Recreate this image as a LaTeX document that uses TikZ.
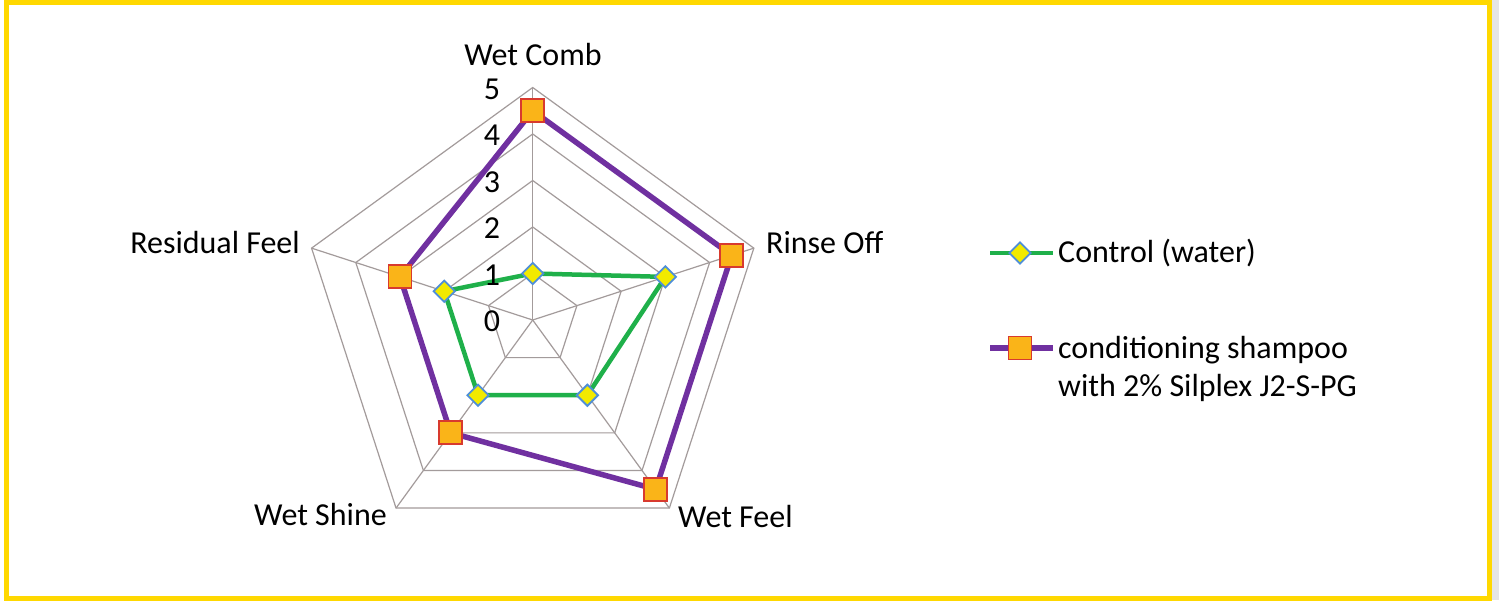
\documentclass[tikz,border=0pt]{standalone}
\usepackage{fontspec}
\setmainfont{Carlito}
\usepackage{tikz}
\usetikzlibrary{shapes.geometric}

\definecolor{marco}{HTML}{FFD800}
\definecolor{gris}{HTML}{A39B9B}
\definecolor{verde}{HTML}{1FB04A}
\definecolor{morado}{HTML}{7030A0}
\definecolor{naranja}{HTML}{FAB418}
\definecolor{rojo}{HTML}{D83A2E}
\definecolor{amarillo}{HTML}{F2EA00}
\definecolor{azul}{HTML}{4F8FD8}

\tikzset{
  rejilla/.style={draw=gris, line width=1.2pt},
  etiqueta/.style={inner sep=0pt, font=\fontsize{32}{38}\selectfont},
  control/.style={diamond, draw=azul, fill=amarillo, line width=1.8pt, minimum size=22pt, inner sep=0pt},
  champu/.style={rectangle, draw=rojo, fill=naranja, line width=1.8pt, minimum size=23pt, inner sep=0pt},
}

\begin{document}
\begin{tikzpicture}[x=1pt,y=1pt]
    \useasboundingbox (0,0) rectangle (1499,600);
    % Fondo y marco amarillo
    \fill[white] (0,0) rectangle (1499,600);
    \fill[black!10] (1492,0) rectangle (1499,600);
    \draw[marco, line width=5pt] (6.5,2) rectangle (1489.5,597.5);

    \begin{scope}[shift={(532.7,280)}]
    % Pentagonos de la rejilla (1 a 5)
    \foreach \k in {1,...,5}
      \draw[rejilla] (90:{46.5*\k}) -- (18:{46.5*\k}) -- (-54:{46.5*\k}) -- (-126:{46.5*\k}) -- (162:{46.5*\k}) -- cycle;
    % Ejes
    \foreach \a in {90,18,-54,-126,162}
      \draw[rejilla] (0,0) -- (\a:232.5);

    % Control (agua)
    \coordinate (c1) at (90:46.5);
    \coordinate (c2) at (18:139.5);
    \coordinate (c3) at (-54:93);
    \coordinate (c4) at (-126:93);
    \coordinate (c5) at (162:93);
    % Champu con 2% Silplex
    \coordinate (s1) at (90:209.25);
    \coordinate (s2) at (18:209.25);
    \coordinate (s3) at (-54:209.25);
    \coordinate (s4) at (-126:139.5);
    \coordinate (s5) at (162:139.5);

    \draw[verde, line width=4.5pt, line join=round] (c1) -- (c2) -- (c3) -- (c4) -- (c5) -- cycle;
    \draw[morado, line width=5.5pt, line join=round] (s1) -- (s2) -- (s3) -- (s4) -- (s5) -- cycle;
    \foreach \p in {c1,c2,c3,c4,c5}
      \node[control] (m\p) at (\p) {};
    \foreach \p in {s1,s2,s3,s4,s5}
      \node[champu] (m\p) at (\p) {};
    \end{scope}

    % Etiquetas de los ejes
    \node[etiqueta, anchor=base] (wetcomb) at (533,534) {Wet Comb};
    \node[etiqueta, anchor=base west] (rinse) at (766,346) {Rinse Off};
    \node[etiqueta, anchor=base west] (wetfeel) at (678,73) {Wet Feel};
    \node[etiqueta, anchor=base east] (wetshine) at (387,75) {Wet Shine};
    \node[etiqueta, anchor=base east] (residual) at (300,346) {Residual Feel};
    % Escala
    \foreach \k in {0,...,5}
      \node[etiqueta, anchor=base] (n\k) at (492,{268+46.5*\k}) {\k};

    % Leyenda
    \coordinate (lc0) at (990,347);
    \coordinate (lc1) at (1053,347);
    \draw[verde, line width=4.5pt] (lc0) -- (lc1);
    \node[control] (lcm) at (1020,347) {};
    \node[etiqueta, anchor=base west] (lct) at (1058,337) {Control (water)};
    \coordinate (ls0) at (990,252);
    \coordinate (ls1) at (1053,252);
    \draw[morado, line width=5.5pt] (ls0) -- (ls1);
    \node[champu] (lsm) at (1020,252) {};
    \node[etiqueta, anchor=base west, align=left] (lst) at (1058,203) {conditioning shampoo\\with 2\% Silplex J2-S-PG};
\end{tikzpicture}
\end{document}
